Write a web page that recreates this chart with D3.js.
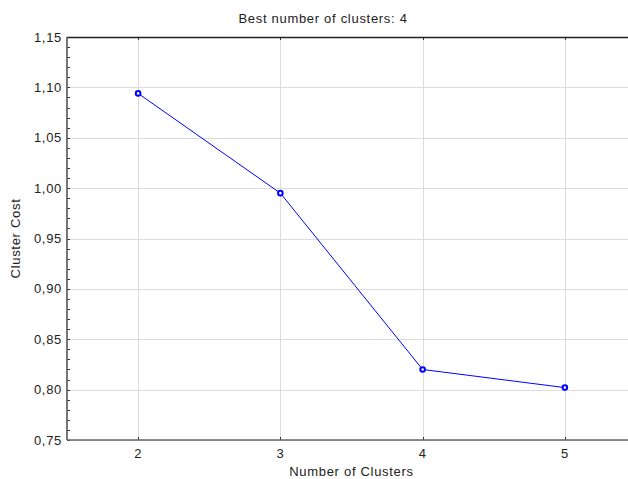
<!DOCTYPE html>
<meta charset="utf-8">
<html>
<style>
body { margin: 0; background: #fff; }
text { font-family: "Liberation Sans", Arial, sans-serif; fill: #222; font-size: 13px; letter-spacing: 0.7px; }
.grid line { stroke: #dcdcdc; stroke-width: 1; }
</style>
<body>
<script src="https://cdn.jsdelivr.net/npm/d3@7"></script>
<script>

// chart data
var clusters = [2, 3, 4, 5];
var cost = [1.094, 0.995, 0.820, 0.802];
var yTicks = [0.75, 0.80, 0.85, 0.90, 0.95, 1.00, 1.05, 1.10, 1.15];
var title = "Best number of clusters: 4";

var width = 628, height = 479;
var margin = {top: 37, left: 67, bottom: 39, right: -8};

var svg = d3.select("body").append("svg")
    .attr("width", width)
    .attr("height", height);

var x = d3.scaleLinear().domain([1.5, 5.5]).range([margin.left, width - margin.right]);
var y = d3.scaleLinear().domain([0.75, 1.15]).range([height - margin.bottom, margin.top]);

var fmt = function(d) { return d3.format(".2f")(d).replace(".", ","); };
var px = v => Math.round(v) + 0.5;

// grid
var grid = svg.append("g").attr("class", "grid");
grid.selectAll(".gx").data(clusters).enter().append("line")
    .attr("x1", d => px(x(d))).attr("x2", d => px(x(d)))
    .attr("y1", y(1.15)).attr("y2", y(0.75));
grid.selectAll(".gy").data(yTicks).enter().append("line")
    .attr("x1", x(1.5)).attr("x2", x(5.5))
    .attr("y1", d => px(y(d))).attr("y2", d => px(y(d)));

// minor ticks on y axis (inside)
var minor = d3.range(75, 116).map(d => d / 100);
svg.append("g").selectAll("line").data(minor).enter().append("line")
    .attr("x1", x(1.5)).attr("x2", x(1.5) + 3)
    .attr("y1", d => px(y(d))).attr("y2", d => px(y(d)))
    .attr("stroke", "#333");

// small ticks on x axis, bottom and top (inside)
svg.append("g").selectAll("line").data(clusters).enter().append("line")
    .attr("x1", d => px(x(d))).attr("x2", d => px(x(d)))
    .attr("y1", y(0.75)).attr("y2", y(0.75) - 3)
    .attr("stroke", "#333");
svg.append("g").selectAll("line").data(clusters).enter().append("line")
    .attr("x1", d => px(x(d))).attr("x2", d => px(x(d)))
    .attr("y1", y(1.15)).attr("y2", y(1.15) + 3)
    .attr("stroke", "#333");

// frame
svg.append("line").attr("x1", x(1.5)).attr("x2", x(5.5))
    .attr("y1", y(1.15) + 0.5).attr("y2", y(1.15) + 0.5)
    .attr("stroke", "#222").attr("stroke-width", 1.3);
svg.append("line").attr("x1", x(1.5)).attr("x2", x(5.5))
    .attr("y1", y(0.75)).attr("y2", y(0.75))
    .attr("stroke", "#666").attr("stroke-width", 1.6);
svg.append("line").attr("x1", x(1.5)).attr("x2", x(1.5))
    .attr("y1", y(1.15)).attr("y2", y(0.75))
    .attr("stroke", "#555").attr("stroke-width", 1.6);

// tick labels
svg.append("g").selectAll("text").data(yTicks).enter().append("text")
    .attr("x", x(1.5) - 5).attr("y", d => y(d) + 4.5)
    .attr("text-anchor", "end")
    .text(fmt);
svg.append("g").selectAll("text").data(clusters).enter().append("text")
    .attr("x", d => x(d)).attr("y", y(0.75) + 18)
    .attr("text-anchor", "middle")
    .text(d => d);

// titles
svg.append("text").attr("x", 323).attr("y", 23)
    .attr("text-anchor", "middle").text(title);
svg.append("text").attr("x", (x(1.5) + x(5.5)) / 2).attr("y", height - 3)
    .attr("text-anchor", "middle").text("Number of Clusters");
svg.append("text")
    .attr("transform", "translate(20," + ((y(1.15) + y(0.75)) / 2) + ") rotate(-90)")
    .attr("text-anchor", "middle").text("Cluster Cost");

// line and points
var pts = clusters.map((c, i) => [c, cost[i]]);
svg.append("path").datum(pts)
    .attr("d", d3.line().x(d => x(d[0])).y(d => y(d[1])))
    .attr("fill", "none").attr("stroke", "#0000ff").attr("stroke-width", 1);
svg.append("g").selectAll("circle").data(pts).enter().append("circle")
    .attr("cx", d => x(d[0])).attr("cy", d => y(d[1])).attr("r", 2.3)
    .attr("fill", "#fff").attr("stroke", "#0000ff").attr("stroke-width", 2);

</script>
</body>
</html>
